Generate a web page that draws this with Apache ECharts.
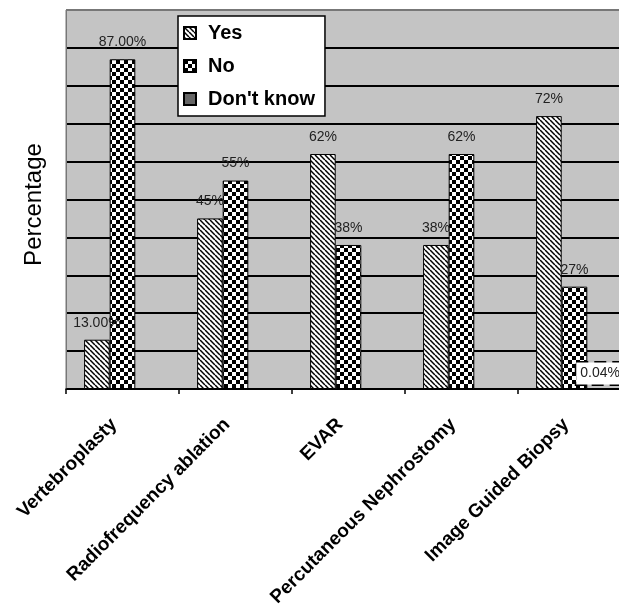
<!DOCTYPE html>
<html>
<head>
<meta charset="utf-8">
<script src="https://cdn.jsdelivr.net/npm/echarts@6/dist/echarts.min.js"></script>
<style>
html,body{margin:0;padding:0;background:#fff;}
#chart{width:619px;height:610px;}
</style>
</head>
<body>
<div id="chart"></div>
<script>
const categories = ['Vertebroplasty', 'Radiofrequency ablation', 'EVAR', 'Percutaneous Nephrostomy', 'Image Guided Biopsy'];
const seriesNames = ['Yes', 'No', "Don't know"];
const yesValues = [13, 45, 62, 38, 72];
const noValues = [87, 55, 38, 62, 27];
const dontKnowValues = [null, null, null, null, 0.04];
const yesLabels = ['13.00%', '45%', '62%', '38%', '72%'];
const noLabels = ['87.00%', '55%', '38%', '62%', '27%'];
const dontKnowLabels = ['', '', '', '', '0.04%'];

function hatchPattern() {
  const s = 5;
  const c = document.createElement('canvas');
  c.width = s; c.height = s;
  const g = c.getContext('2d');
  g.fillStyle = '#fff'; g.fillRect(0, 0, s, s);
  g.strokeStyle = '#000'; g.lineWidth = 1.5;
  for (let k = -1; k <= 1; k++) {
    g.beginPath();
    g.moveTo(k * s, 0);
    g.lineTo(k * s + s, s);
    g.stroke();
  }
  return c;
}
function checkerPattern() {
  const q = 4;
  const c = document.createElement('canvas');
  c.width = 2 * q; c.height = 2 * q;
  const g = c.getContext('2d');
  g.fillStyle = '#fff'; g.fillRect(0, 0, 2 * q, 2 * q);
  g.fillStyle = '#000';
  g.fillRect(0, 0, q, q);
  g.fillRect(q, q, q, q);
  return c;
}

const font = '"Liberation Sans", Arial, sans-serif';
const chart = echarts.init(document.getElementById('chart'), null, {renderer: 'canvas'});

function makeData(vals, labels) {
  return vals.map((v, i) => ({value: v, labelText: labels[i]}));
}

const labelBase = {
  show: true,
  position: 'top',
  distance: 10,
  fontFamily: font,
  fontSize: 14,
  color: '#222',
  formatter: p => p.data.labelText
};

chart.setOption({
  animation: false,
  backgroundColor: '#fff',
  grid: {
    left: 66, top: 10, width: 565, height: 379,
    containLabel: false,
    outerBoundsMode: 'none',
    show: true, backgroundColor: '#c4c4c4', borderColor: '#777', borderWidth: 1
  },
  legend: {
    orient: 'vertical',
    left: 178, top: 16,
    backgroundColor: '#fff',
    borderColor: '#000', borderWidth: 1.5,
    padding: [7, 10, 7, 5],
    itemWidth: 12, itemHeight: 12, itemGap: 13,
    icon: 'rect',
    textStyle: {fontFamily: font, fontSize: 20, fontWeight: 'bold', color: '#000', padding: [0, 0, 0, 7]},
    data: seriesNames
  },
  xAxis: {
    type: 'category',
    data: categories,
    axisLine: {lineStyle: {color: '#000', width: 1.5}},
    axisTick: {show: true, length: 5, lineStyle: {color: '#000', width: 1.5}},
    axisLabel: {
      rotate: 45, margin: 24, interval: 0,
      padding: [0, 12, 0, 0],
      fontFamily: font, fontSize: 19, fontWeight: 'bold', color: '#000'
    }
  },
  yAxis: {
    type: 'value', min: 0, max: 100, interval: 10,
    name: 'Percentage',
    nameLocation: 'middle',
    nameGap: 20,
    nameTextStyle: {fontFamily: font, fontSize: 24, color: '#000', padding: [0, 0, 0, -10]},
    axisLabel: {show: false},
    axisTick: {show: false},
    axisLine: {show: true, lineStyle: {color: '#777', width: 1}},
    splitLine: {
      show: true,
      lineStyle: {
        color: ['#000', '#000', '#000', '#000', '#000', '#000', '#000', '#000', '#000', '#000', '#777'],
        width: 1.8
      }
    }
  },
  series: [
    {
      name: seriesNames[0], type: 'bar',
      barGap: '0%', barCategoryGap: '32%',
      itemStyle: {color: {image: hatchPattern(), repeat: 'repeat'}, borderColor: '#000', borderWidth: 1},
      label: labelBase,
      data: makeData(yesValues, yesLabels)
    },
    {
      name: seriesNames[1], type: 'bar',
      barGap: '0%', barCategoryGap: '32%',
      itemStyle: {color: {image: checkerPattern(), repeat: 'repeat'}, borderColor: '#000', borderWidth: 1},
      label: labelBase,
      data: makeData(noValues, noLabels)
    },
    {
      name: seriesNames[2], type: 'bar',
      barGap: '0%', barCategoryGap: '32%',
      itemStyle: {color: '#666', borderColor: '#000', borderWidth: 1},
      label: Object.assign({}, labelBase, {
        distance: 4,
        backgroundColor: '#fff',
        borderColor: '#000', borderWidth: 1.5, borderType: 'dashed',
        padding: [4, 4, 4, 4],
        color: '#222'
      }),
      data: makeData(dontKnowValues, dontKnowLabels)
    }
  ]
});
</script>
</body>
</html>
